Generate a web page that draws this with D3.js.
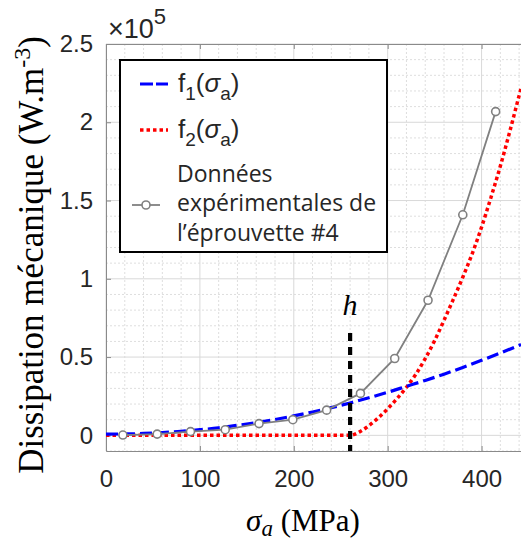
<!DOCTYPE html>
<html>
<head>
<meta charset="utf-8">
<script src="https://cdn.jsdelivr.net/npm/d3@7"></script>
<style>
  html, body { margin: 0; padding: 0; background: #fff; }
  svg { display: block; }
</style>
</head>
<body>
<script>
// ---- Data ----
const xTicks = [0, 100, 200, 300, 400];
const yTicks = [0, 50000, 100000, 150000, 200000, 250000];
const yTickLabels = ["0", "0.5", "1", "1.5", "2", "2.5"];

// Experimental data, specimen #4
const sigmaExp = [18, 54.5, 90, 127, 163, 199, 235, 271, 307.5, 343, 380, 415];
const dissExp  = [200, 800, 2400, 3600, 7500, 10000, 16100, 26800, 49100, 86300, 140900, 206800];

// f1(sigma_a)
const sigmaF1 = [0, 20, 40, 60, 80, 100, 120, 140, 160, 180, 200, 220, 240, 260, 280, 300, 320, 340, 360, 380, 400, 420, 440, 442];
const f1Vals  = [800, 900, 1200, 1800, 2600, 3600, 4800, 6400, 8100, 10100, 12400, 14900, 17700, 20700, 24000, 27500, 31300, 35100, 39100, 43400, 47900, 52600, 57500, 58000];

// f2(sigma_a)
const sigmaF2 = [0, 260, 270, 280, 290, 300, 310, 320, 330, 340, 350, 360, 370, 380, 390, 400, 410, 420, 430, 440, 442];
const f2Vals  = [0, 0, 2200, 6200, 11200, 17000, 23500, 30700, 39000, 49000, 60500, 73500, 87000, 101000, 116000, 133000, 152000, 172000, 194000, 217000, 221500];

const hValue = 260;
const legendLabels = ["f1", "f2", ["Données", "expérimentales de", "l’éprouvette #4"]];

// ---- Layout ----
const W = 521, H = 542;
const pLeft = 106, pRight = 521, pTop = 44, pBottom = 451;

const svg = d3.select("body").append("svg").attr("width", W).attr("height", H);

const x = d3.scaleLinear().domain([0, 442]).range([pLeft, pRight]);
const y = d3.scaleLinear().domain([-10000, 250000]).range([pBottom, pTop]);

svg.append("defs").append("clipPath").attr("id", "clip")
  .append("rect").attr("x", pLeft).attr("y", pTop).attr("width", pRight - pLeft).attr("height", pBottom - pTop);

// ---- Grid ----
const grid = svg.append("g");
const xMinor = d3.range(20, 442, 20).filter(v => v % 100 !== 0);
const yMinor = d3.range(-10000, 250001, 10000).filter(v => v % 50000 !== 0);
grid.selectAll(".xm").data(xMinor).join("line")
  .attr("x1", d => x(d)).attr("x2", d => x(d)).attr("y1", pTop).attr("y2", pBottom)
  .attr("stroke", "#dedede").attr("stroke-width", 1).attr("stroke-dasharray", "2,2");
grid.selectAll(".ym").data(yMinor).join("line")
  .attr("x1", pLeft).attr("x2", pRight).attr("y1", d => y(d)).attr("y2", d => y(d))
  .attr("stroke", "#dedede").attr("stroke-width", 1).attr("stroke-dasharray", "2,2");
grid.selectAll(".xM").data(xTicks).join("line")
  .attr("x1", d => x(d)).attr("x2", d => x(d)).attr("y1", pTop).attr("y2", pBottom)
  .attr("stroke", "#d9d9d9").attr("stroke-width", 1);
grid.selectAll(".yM").data(yTicks).join("line")
  .attr("x1", pLeft).attr("x2", pRight).attr("y1", d => y(d)).attr("y2", d => y(d))
  .attr("stroke", "#d9d9d9").attr("stroke-width", 1);

// ---- Axes ----
const axisColor = "#8a8a8a";
const textColor = "#262626";
const gx = svg.append("g").attr("transform", `translate(0,${pBottom})`)
  .call(d3.axisBottom(x).tickValues(xTicks).tickSizeInner(-5).tickSizeOuter(0).tickPadding(19));
const gy = svg.append("g").attr("transform", `translate(${pLeft},0)`)
  .call(d3.axisLeft(y).tickValues(yTicks).tickFormat((d, i) => yTickLabels[i]).tickSizeInner(-5).tickSizeOuter(0).tickPadding(13));
const gt = svg.append("g").attr("transform", `translate(0,${pTop})`)
  .call(d3.axisTop(x).tickValues(xTicks).tickSizeInner(-5).tickSizeOuter(0).tickFormat(""));
[gx, gy, gt].forEach(g => {
  g.select(".domain").attr("stroke", axisColor);
  g.selectAll(".tick line").attr("stroke", axisColor);
  g.selectAll(".tick text").attr("fill", textColor)
    .style("font-family", "'Liberation Sans', Arial, sans-serif").style("font-size", "24px");
});

// ×10^5
const expT = svg.append("text").attr("x", 108).attr("y", 38)
  .attr("fill", textColor).style("font-family", "'Liberation Sans', Arial, sans-serif").style("font-size", "27px");
expT.append("tspan").text("×10");
expT.append("tspan").attr("dy", -14).style("font-size", "22px").text("5");

// ---- Curves ----
const plot = svg.append("g").attr("clip-path", "url(#clip)");
const lineGen = d3.line().x(d => x(d[0])).y(d => y(d[1])).curve(d3.curveMonotoneX);

plot.append("path").datum(d3.zip(sigmaF2, f2Vals)).attr("d", lineGen)
  .attr("fill", "none").attr("stroke", "#ff0000").attr("stroke-width", 3.5).attr("stroke-dasharray", "3.5,3");

plot.append("path").datum(d3.zip(sigmaF1, f1Vals)).attr("d", lineGen)
  .attr("fill", "none").attr("stroke", "#0000ff").attr("stroke-width", 3.2).attr("stroke-dasharray", "12,5");

const expLine = d3.line().x(d => x(d[0])).y(d => y(d[1]));
plot.append("path").datum(d3.zip(sigmaExp, dissExp)).attr("d", expLine)
  .attr("fill", "none").attr("stroke", "#808080").attr("stroke-width", 1.8);
plot.selectAll(".pt").data(d3.zip(sigmaExp, dissExp)).join("circle")
  .attr("cx", d => x(d[0])).attr("cy", d => y(d[1])).attr("r", 4)
  .attr("fill", "#fff").attr("stroke", "#808080").attr("stroke-width", 1.6);

// h marker
svg.append("line").attr("x1", x(hValue)).attr("x2", x(hValue)).attr("y1", 333).attr("y2", pBottom)
  .attr("stroke", "#000").attr("stroke-width", 4.2).attr("stroke-dasharray", "8,6");
svg.append("text").attr("x", x(hValue)).attr("y", 315).attr("text-anchor", "middle")
  .style("font-family", "'Liberation Serif', 'Times New Roman', serif").style("font-style", "italic")
  .style("font-size", "30px").text("h");

// ---- Axis titles ----
const yt = svg.append("text").attr("transform", "translate(43,255) rotate(-90)").attr("text-anchor", "middle")
  .attr("fill", "#000").style("font-family", "'Liberation Serif', 'Times New Roman', serif").style("font-size", "35px");
yt.append("tspan").text("Dissipation mécanique (W.m");
yt.append("tspan").attr("dy", -13).style("font-size", "24px").text("-3");
yt.append("tspan").attr("dy", 13).text(")");

const xt = svg.append("text").attr("x", 303).attr("y", 531).attr("text-anchor", "middle")
  .attr("fill", "#000").style("font-family", "'Liberation Serif', 'Times New Roman', serif").style("font-size", "31px");
xt.append("tspan").style("font-style", "italic").text("σ");
xt.append("tspan").attr("dy", 5).style("font-style", "italic").style("font-size", "23px").text("a");
xt.append("tspan").attr("dy", -5).text(" (MPa)");

// ---- Legend ----
const lg = svg.append("g");
lg.append("rect").attr("x", 120).attr("y", 60).attr("width", 267).attr("height", 192)
  .attr("fill", "#fff").attr("stroke", "#000").attr("stroke-width", 2);

const sansF = "'Liberation Sans', Arial, sans-serif";
function fLabel(yb, name) {
  const t = lg.append("text").attr("x", 178).attr("y", yb).attr("fill", textColor)
    .style("font-family", sansF).style("font-size", "26px");
  t.append("tspan").text(name.charAt(0));
  t.append("tspan").attr("dy", 8).style("font-size", "19px").text(name.charAt(1));
  t.append("tspan").attr("dy", -8).text("(");
  t.append("tspan").style("font-style", "italic").text("σ");
  t.append("tspan").attr("dy", 8).style("font-size", "19px").text("a");
  t.append("tspan").attr("dy", -8).text(")");
}
lg.append("line").attr("x1", 140).attr("x2", 168).attr("y1", 84).attr("y2", 84)
  .attr("stroke", "#0000ff").attr("stroke-width", 3.2).attr("stroke-dasharray", "13,3");
fLabel(92, legendLabels[0]);
lg.append("line").attr("x1", 140).attr("x2", 168).attr("y1", 130).attr("y2", 130)
  .attr("stroke", "#ff0000").attr("stroke-width", 3.5).attr("stroke-dasharray", "3.5,3");
fLabel(138, legendLabels[1]);

lg.append("line").attr("x1", 132).attr("x2", 160).attr("y1", 205).attr("y2", 205)
  .attr("stroke", "#808080").attr("stroke-width", 1.8);
lg.append("circle").attr("cx", 146).attr("cy", 205).attr("r", 4)
  .attr("fill", "#fff").attr("stroke", "#808080").attr("stroke-width", 1.6);
const dt = lg.append("text").attr("fill", textColor)
  .style("font-family", "'Open Sans', 'Noto Sans', sans-serif").style("font-size", "23px");
legendLabels[2].forEach((s, i) => {
  dt.append("tspan").attr("x", 177).attr("y", 181.5 + i * 29.5).text(s);
});
</script>
</body>
</html>
